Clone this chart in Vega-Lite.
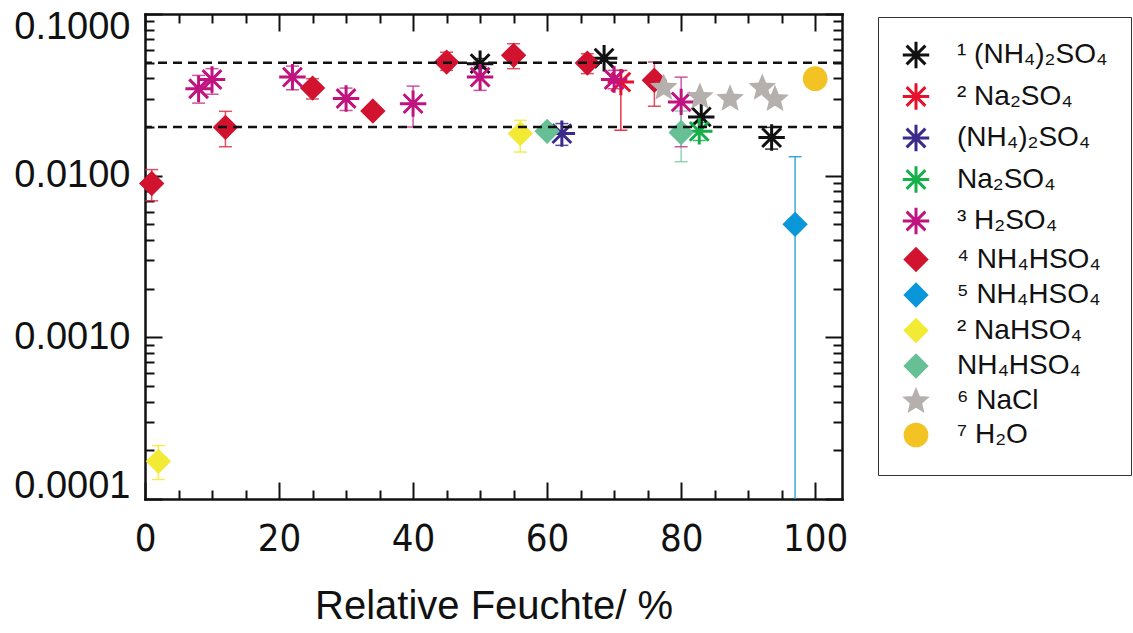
{
  "$schema": "https://vega.github.io/schema/vega-lite/v6.json",
  "width": 697,
  "height": 485,
  "autosize": {"type": "none"},
  "padding": {"left": 145, "top": 14, "right": 291, "bottom": 134},
  "background": "white",
  "data": {"values": [
    {"s": "¹ (NH₄)₂SO₄", "x": 50, "y": 0.0493, "lo": 0.046, "hi": 0.053},
    {"s": "¹ (NH₄)₂SO₄", "x": 68.5, "y": 0.0533},
    {"s": "¹ (NH₄)₂SO₄", "x": 83, "y": 0.0231},
    {"s": "¹ (NH₄)₂SO₄", "x": 93.5, "y": 0.0172, "lo": 0.0146, "hi": 0.0199},
    {"s": "² Na₂SO₄", "x": 71, "y": 0.0379, "lo": 0.0191, "hi": 0.0448},
    {"s": "(NH₄)₂SO₄", "x": 62.2, "y": 0.0182, "lo": 0.0154, "hi": 0.021},
    {"s": "Na₂SO₄", "x": 82.7, "y": 0.0188, "lo": 0.0165, "hi": 0.0213},
    {"s": "³ H₂SO₄", "x": 8, "y": 0.0345, "lo": 0.0281, "hi": 0.0417},
    {"s": "³ H₂SO₄", "x": 10, "y": 0.0393, "lo": 0.0319, "hi": 0.0459},
    {"s": "³ H₂SO₄", "x": 22, "y": 0.0407, "lo": 0.034, "hi": 0.0476},
    {"s": "³ H₂SO₄", "x": 30, "y": 0.03, "lo": 0.0253, "hi": 0.0348},
    {"s": "³ H₂SO₄", "x": 40, "y": 0.0279, "lo": 0.02, "hi": 0.0358},
    {"s": "³ H₂SO₄", "x": 50, "y": 0.0407, "lo": 0.0337, "hi": 0.0474},
    {"s": "³ H₂SO₄", "x": 70, "y": 0.0393, "lo": 0.0345, "hi": 0.0448},
    {"s": "³ H₂SO₄", "x": 80, "y": 0.0286, "lo": 0.0151, "hi": 0.0407},
    {"s": "⁴ NH₄HSO₄", "x": 1, "y": 0.00895, "lo": 0.00699, "hi": 0.0109},
    {"s": "⁴ NH₄HSO₄", "x": 12, "y": 0.0199, "lo": 0.0151, "hi": 0.025},
    {"s": "⁴ NH₄HSO₄", "x": 25, "y": 0.0348, "lo": 0.0298, "hi": 0.0398},
    {"s": "⁴ NH₄HSO₄", "x": 34, "y": 0.0251},
    {"s": "⁴ NH₄HSO₄", "x": 45, "y": 0.0504, "lo": 0.0448, "hi": 0.058},
    {"s": "⁴ NH₄HSO₄", "x": 55, "y": 0.0555, "lo": 0.0459, "hi": 0.0655},
    {"s": "⁴ NH₄HSO₄", "x": 66, "y": 0.0497, "lo": 0.0428, "hi": 0.0568},
    {"s": "⁴ NH₄HSO₄", "x": 76, "y": 0.0389, "lo": 0.0269, "hi": 0.0504},
    {"s": "⁵ NH₄HSO₄", "x": 97, "y": 0.005, "lo": 0.0001, "hi": 0.0131},
    {"s": "² NaHSO₄", "x": 2, "y": 0.000171, "lo": 0.000132, "hi": 0.000214},
    {"s": "² NaHSO₄", "x": 56, "y": 0.0182, "lo": 0.014, "hi": 0.022},
    {"s": "NH₄HSO₄", "x": 60, "y": 0.0188},
    {"s": "NH₄HSO₄", "x": 80, "y": 0.0185, "lo": 0.0122, "hi": 0.0251},
    {"s": "⁶ NaCl", "x": 77.4, "y": 0.0353},
    {"s": "⁶ NaCl", "x": 82.8, "y": 0.031},
    {"s": "⁶ NaCl", "x": 87.3, "y": 0.0302},
    {"s": "⁶ NaCl", "x": 92.1, "y": 0.0353},
    {"s": "⁶ NaCl", "x": 94, "y": 0.03},
    {"s": "⁷ H₂O", "x": 100, "y": 0.0398}
  ]},
  "resolve": {"axis": {"x": "independent", "y": "independent"}},
  "layer": [
    {
      "mark": {"type": "point", "opacity": 0},
      "encoding": {
        "x": {"field": "x", "type": "quantitative", "scale": {"type": "linear", "domain": [0, 104], "nice": false, "zero": false},
          "axis": {"orient": "bottom", "values": [0, 20, 40, 60, 80, 100], "ticks": false, "domain": false, "grid": false,
            "labelFontSize": 38, "labelFont": "DejaVu Sans Condensed, Liberation Sans Narrow, Liberation Sans", "labelColor": "#111", "labelPadding": 21, "labelFlush": false,
            "title": "Relative Feuchte/ %", "titleFontSize": 40, "titleFontWeight": "normal", "titleFont": "Liberation Sans", "titleColor": "#111", "titlePadding": 28}},
        "y": {"field": "y", "type": "quantitative", "scale": {"type": "log", "domain": [0.0001, 0.1], "nice": false},
          "axis": {"orient": "left", "values": [0.0001, 0.001, 0.01, 0.1], "format": ".4f", "ticks": false, "domain": false, "grid": false,
            "labelFontSize": 38, "labelFont": "Liberation Sans", "labelColor": "#111", "labelPadding": 15, "labelFlush": true, "labelFlushOffset": 6, "title": null}}
      }
    },
    {
      "mark": {"type": "point", "opacity": 0},
      "encoding": {
        "x": {"field": "x", "type": "quantitative", "scale": {"type": "linear", "domain": [0, 104], "nice": false, "zero": false},
          "axis": {"orient": "bottom", "values": [0, 20, 40, 60, 80, 100], "labels": false, "ticks": true, "tickSize": -17, "tickWidth": 2, "tickColor": "#111",
            "domain": true, "domainWidth": 2.5, "domainColor": "#111", "domainCap": "square", "grid": false, "title": null}},
        "y": {"field": "y", "type": "quantitative", "scale": {"type": "log", "domain": [0.0001, 0.1], "nice": false},
          "axis": {"orient": "left", "values": [0.0001, 0.001, 0.01, 0.1], "labels": false, "ticks": true, "tickSize": -17, "tickWidth": 2, "tickColor": "#111",
            "domain": true, "domainWidth": 2.5, "domainColor": "#111", "domainCap": "square", "grid": false, "title": null}}
      }
    },
    {
      "mark": {"type": "point", "opacity": 0},
      "encoding": {
        "x": {"field": "x", "type": "quantitative", "scale": {"type": "linear", "domain": [0, 104], "nice": false, "zero": false},
          "axis": {"orient": "bottom", "values": [5, 10, 15, 25, 30, 35, 45, 50, 55, 65, 70, 75, 85, 90, 95], "labels": false, "ticks": true, "tickSize": -9, "tickWidth": 2, "tickColor": "#111",
            "domain": false, "grid": false, "title": null}},
        "y": {"field": "y", "type": "quantitative", "scale": {"type": "log", "domain": [0.0001, 0.1], "nice": false},
          "axis": {"orient": "left", "values": [0.0002, 0.0003, 0.0004, 0.0005, 0.0006, 0.0007, 0.0008, 0.0009, 0.002, 0.003, 0.004, 0.005, 0.006, 0.007, 0.008, 0.009, 0.02, 0.03, 0.04, 0.05, 0.06, 0.07, 0.08, 0.09],
            "labels": false, "ticks": true, "tickSize": -9, "tickWidth": 2, "tickColor": "#111", "domain": false, "grid": false, "title": null}}
      }
    },
    {
      "mark": {"type": "point", "opacity": 0},
      "encoding": {
        "x": {"field": "x", "type": "quantitative", "scale": {"type": "linear", "domain": [0, 104], "nice": false, "zero": false},
          "axis": {"orient": "top", "values": [0, 20, 40, 60, 80, 100], "labels": false, "ticks": true, "tickSize": -17, "tickWidth": 2, "tickColor": "#111",
            "domain": true, "domainWidth": 2.5, "domainColor": "#111", "domainCap": "square", "grid": false, "title": null}},
        "y": {"field": "y", "type": "quantitative", "scale": {"type": "log", "domain": [0.0001, 0.1], "nice": false},
          "axis": {"orient": "right", "values": [0.0001, 0.001, 0.01, 0.1], "labels": false, "ticks": true, "tickSize": -17, "tickWidth": 2, "tickColor": "#111",
            "domain": true, "domainWidth": 2.5, "domainColor": "#111", "domainCap": "square", "grid": false, "title": null}}
      }
    },
    {
      "mark": {"type": "point", "opacity": 0},
      "encoding": {
        "x": {"field": "x", "type": "quantitative", "scale": {"type": "linear", "domain": [0, 104], "nice": false, "zero": false},
          "axis": {"orient": "top", "values": [5, 10, 15, 25, 30, 35, 45, 50, 55, 65, 70, 75, 85, 90, 95], "labels": false, "ticks": true, "tickSize": -9, "tickWidth": 2, "tickColor": "#111",
            "domain": false, "grid": false, "title": null}},
        "y": {"field": "y", "type": "quantitative", "scale": {"type": "log", "domain": [0.0001, 0.1], "nice": false},
          "axis": {"orient": "right", "values": [0.0002, 0.0003, 0.0004, 0.0005, 0.0006, 0.0007, 0.0008, 0.0009, 0.002, 0.003, 0.004, 0.005, 0.006, 0.007, 0.008, 0.009, 0.02, 0.03, 0.04, 0.05, 0.06, 0.07, 0.08, 0.09],
            "labels": false, "ticks": true, "tickSize": -9, "tickWidth": 2, "tickColor": "#111", "domain": false, "grid": false, "title": null}}
      }
    },
    {
      "transform": [{"filter": "datum.lo != null"}],
      "mark": {"type": "rule", "strokeWidth": 1.5, "opacity": 0.85},
      "encoding": {
        "x": {"field": "x", "type": "quantitative", "scale": {"type": "linear", "domain": [0, 104], "nice": false, "zero": false}, "axis": null},
        "y": {"field": "lo", "type": "quantitative", "scale": {"type": "log", "domain": [0.0001, 0.1], "nice": false}, "axis": null},
        "y2": {"field": "hi"},
        "color": {"field": "s", "type": "nominal", "legend": null,
          "scale": {"domain": ["⁷ H₂O", "⁶ NaCl", "NH₄HSO₄", "² NaHSO₄", "⁵ NH₄HSO₄", "⁴ NH₄HSO₄", "³ H₂SO₄", "Na₂SO₄", "(NH₄)₂SO₄", "² Na₂SO₄", "¹ (NH₄)₂SO₄"],
            "range": ["#f3c323", "#b5b0ad", "#7fcca8", "#f2ea35", "#1a9ad8", "#d8314a", "#c8378f", "#15b04a", "#3b2a8c", "#e8112d", "#111111"]}}
      }
    },
    {
      "transform": [{"filter": "datum.lo != null && datum.lo > 0.0001"}],
      "mark": {"type": "tick", "orient": "horizontal", "size": 13, "thickness": 1.5, "opacity": 0.85},
      "encoding": {
        "x": {"field": "x", "type": "quantitative", "scale": {"type": "linear", "domain": [0, 104], "nice": false, "zero": false}, "axis": null},
        "y": {"field": "lo", "type": "quantitative", "scale": {"type": "log", "domain": [0.0001, 0.1], "nice": false}, "axis": null},
        "color": {"field": "s", "type": "nominal", "legend": null}
      }
    },
    {
      "transform": [{"filter": "datum.hi != null"}],
      "mark": {"type": "tick", "orient": "horizontal", "size": 13, "thickness": 1.5, "opacity": 0.85},
      "encoding": {
        "x": {"field": "x", "type": "quantitative", "scale": {"type": "linear", "domain": [0, 104], "nice": false, "zero": false}, "axis": null},
        "y": {"field": "hi", "type": "quantitative", "scale": {"type": "log", "domain": [0.0001, 0.1], "nice": false}, "axis": null},
        "color": {"field": "s", "type": "nominal", "legend": null}
      }
    },
    {
      "mark": {"type": "point", "filled": true, "opacity": 1, "size": 700, "strokeWidth": 3},
      "encoding": {
        "x": {"field": "x", "type": "quantitative", "scale": {"type": "linear", "domain": [0, 104], "nice": false, "zero": false}, "axis": null},
        "y": {"field": "y", "type": "quantitative", "scale": {"type": "log", "domain": [0.0001, 0.1], "nice": false}, "axis": null},
        "fill": {"field": "s", "type": "nominal",
          "legend": {"title": null, "orient": "none", "legendX": 733, "legendY": 3},
          "scale": {"domain": ["¹ (NH₄)₂SO₄", "² Na₂SO₄", "(NH₄)₂SO₄", "Na₂SO₄", "³ H₂SO₄", "⁴ NH₄HSO₄", "⁵ NH₄HSO₄", "² NaHSO₄", "NH₄HSO₄", "⁶ NaCl", "⁷ H₂O"],
            "range": ["#111111", "#e8112d", "#3b2a8c", "#15b04a", "#c0137f", "#d2132f", "#0a97d9", "#f2ea35", "#67c095", "#b5b0ad", "#f3c323"]}},
        "stroke": {"field": "s", "type": "nominal",
          "legend": {"title": null, "orient": "none", "legendX": 733, "legendY": 3},
          "scale": {"domain": ["¹ (NH₄)₂SO₄", "² Na₂SO₄", "(NH₄)₂SO₄", "Na₂SO₄", "³ H₂SO₄", "⁴ NH₄HSO₄", "⁵ NH₄HSO₄", "² NaHSO₄", "NH₄HSO₄", "⁶ NaCl", "⁷ H₂O"],
            "range": ["#111111", "#e8112d", "#3b2a8c", "#15b04a", "#c0137f", "#d2132f", "#0a97d9", "#f2ea35", "#67c095", "#b5b0ad", "#f3c323"]}},
        "shape": {"field": "s", "type": "nominal",
          "legend": {"title": null, "orient": "none", "legendX": 733, "legendY": 3},
          "scale": {"domain": ["¹ (NH₄)₂SO₄", "² Na₂SO₄", "(NH₄)₂SO₄", "Na₂SO₄", "³ H₂SO₄", "⁴ NH₄HSO₄", "⁵ NH₄HSO₄", "² NaHSO₄", "NH₄HSO₄", "⁶ NaCl", "⁷ H₂O"],
            "range": [
              "M-1,0L1,0M0,-1L0,1M-0.71,-0.71L0.71,0.71M-0.71,0.71L0.71,-0.71",
              "M-1,0L1,0M0,-1L0,1M-0.71,-0.71L0.71,0.71M-0.71,0.71L0.71,-0.71",
              "M-1,0L1,0M0,-1L0,1M-0.71,-0.71L0.71,0.71M-0.71,0.71L0.71,-0.71",
              "M-1,0L1,0M0,-1L0,1M-0.71,-0.71L0.71,0.71M-0.71,0.71L0.71,-0.71",
              "M-1,0L1,0M0,-1L0,1M-0.71,-0.71L0.71,0.71M-0.71,0.71L0.71,-0.71",
              "M0,-0.8L0.8,0L0,0.8L-0.8,0Z",
              "M0,-0.8L0.8,0L0,0.8L-0.8,0Z",
              "M0,-0.8L0.8,0L0,0.8L-0.8,0Z",
              "M0,-0.8L0.8,0L0,0.8L-0.8,0Z",
              "M0,-0.74L0.212,-0.23L0.761,-0.19L0.342,0.17L0.47,0.71L0,0.42L-0.47,0.71L-0.342,0.17L-0.761,-0.19L-0.212,-0.23Z",
              "M0.82,0A0.82,0.82 0 1,1 -0.82,0A0.82,0.82 0 1,1 0.82,0Z"
            ]}}
      }
    },
    {
      "data": {"values": [{"v": 0.05}, {"v": 0.02}]},
      "mark": {"type": "rule", "strokeDash": [9, 6], "strokeWidth": 2.5, "color": "#111"},
      "encoding": {
        "y": {"field": "v", "type": "quantitative", "scale": {"type": "log", "domain": [0.0001, 0.1], "nice": false}, "axis": null}
      }
    }
  ],
  "config": {
    "view": {"stroke": null},
    "font": "Liberation Sans",
    "legend": {
      "strokeColor": "#333", "fillColor": "white", "padding": 23,
      "labelFontSize": 28, "labelFont": "Liberation Sans", "labelColor": "#111", "labelLimit": 400,
      "symbolSize": 700, "symbolStrokeWidth": 3, "labelOffset": 26, "rowPadding": 1.5
    }
  }
}
